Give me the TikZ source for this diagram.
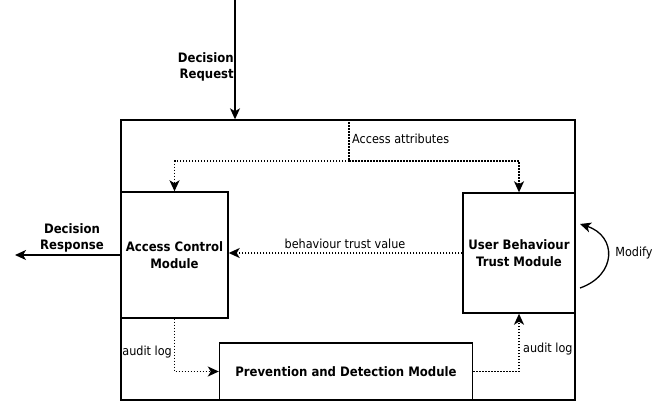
\documentclass[tikz,border=0pt]{standalone}
\usepackage{fontspec}
\setmainfont{DejaVu Sans Condensed}
\usetikzlibrary{arrows.meta}

\begin{document}
\begin{tikzpicture}[x=1pt,y=-1pt]
\tikzstyle{every node}+=[inner sep=0pt]
\tikzstyle{box}=[draw, line width=1.4pt]
\tikzstyle{bold}=[font=\fontsize{13}{16.5}\selectfont\bfseries, align=center]
\tikzstyle{lbl}=[font=\fontsize{12.5}{14}\selectfont]
\tikzstyle{solidarrow}=[line width=1.3pt, -{Stealth[length=11pt,width=10pt,inset=3pt]}]
\tikzstyle{dotline}=[line width=1.5pt, dash pattern=on 1.5pt off 1.5pt]
\tikzstyle{dotarrow}=[dotline, -{Stealth[length=11pt,width=10pt,inset=3pt]}]
\useasboundingbox (0,0) rectangle (671,402);
% modules
\node[box, minimum width=454pt, minimum height=280pt] (sys) at (348,260) {};
\node[box, bold, minimum width=107pt, minimum height=126pt] (acm) at (174.5,255) {Access Control\\Module};
\node[box, bold, minimum width=112pt, minimum height=120pt] (ubt) at (519,253) {User Behaviour\\Trust Module};
\node[box, bold, fill=white, minimum width=253pt, minimum height=57pt] (pdm) at (346,371.5) {Prevention and Detection Module};
% request and response
\coordinate (req) at (235,0);
\draw[solidarrow] (req) -- (req |- sys.north);
\node[bold, align=right, anchor=east] (reqlbl) at (234,67) {Decision\\Request};
\coordinate (resp) at (15,255);
\draw[solidarrow] (acm.west) -- (resp);
\node[bold] (resplbl) at (72,238) {Decision\\Response};
% access attributes
\coordinate (split) at (349,161);
\draw[dotline] (sys.north -| split) -- (split);
\draw[dotarrow] (split) -| (acm.north);
\draw[dotarrow] (split) -| (ubt.north);
\node[lbl, anchor=west] (attrlbl) at (352,139) {Access attributes};
% trust value
\draw[dotarrow] (ubt.west) -- (ubt.west -| acm.east);
\node[lbl] (trustlbl) at (345,244) {behaviour trust value};
% audit logs
\draw[dotarrow] (acm.south) |- (pdm.west);
\node[lbl, anchor=east] (auditl) at (172,352) {audit log};
\draw[dotarrow] (pdm.east) -| (ubt.south);
\node[lbl, anchor=west] (auditr) at (523,349) {audit log};
% modify loop
\coordinate (modfrom) at (580,288);
\coordinate (modto) at (580,224);
\draw[solidarrow] (modfrom) .. controls (617,275) and (617,236) .. (modto);
\node[lbl] (modlbl) at (634,253) {Modify};
\end{tikzpicture}
\end{document}
